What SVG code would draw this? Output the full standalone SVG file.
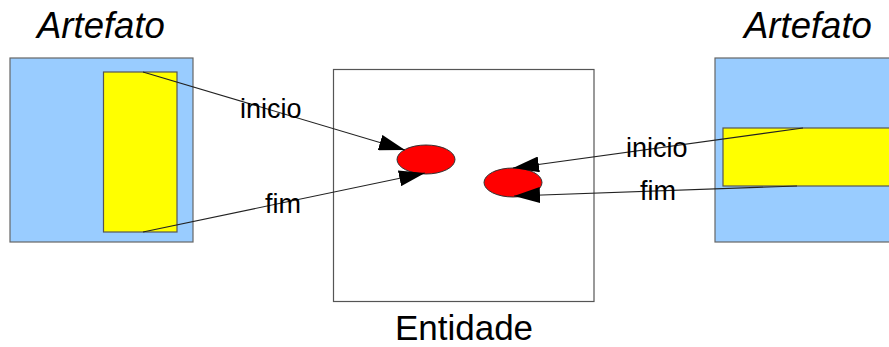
<svg xmlns="http://www.w3.org/2000/svg" width="889" height="347" viewBox="0 0 889 347">
<style>
.blue{fill:#99ccff;stroke:#666;stroke-width:1.2}
.yellow{fill:#ffff00;stroke:#555;stroke-width:1.2}
.ent{fill:#fff;stroke:#555;stroke-width:1.2}
.ell{fill:#ff0000;stroke:#333;stroke-width:1}
.t{font-family:"Liberation Sans",Arial,sans-serif;fill:#000}
.title{font-size:36.5px;font-style:italic}
.lbl{font-size:27px}
.conn{stroke:#222;stroke-width:1.1;fill:none;marker-end:url(#arr)}
</style>
<defs>
<marker id="arr" markerUnits="userSpaceOnUse" markerWidth="26" markerHeight="16" refX="26" refY="8" orient="auto" viewBox="0 0 26 16">
<path d="M0,0 L26,8 L0,16 Z" fill="#000"/>
</marker>
</defs>
<g id="artefato-left">
<text class="t title" x="37" y="38">Artefato</text>
<rect class="blue" x="10" y="58" width="183" height="184"/>
<rect class="yellow" x="103.5" y="72" width="73.5" height="160"/>
</g>
<g id="artefato-right">
<text class="t title" x="744" y="38">Artefato</text>
<rect class="blue" x="715" y="58" width="180" height="184"/>
<rect class="yellow" x="723" y="128" width="172" height="58"/>
</g>
<g id="entidade">
<rect class="ent" x="333.5" y="69.5" width="260.5" height="232"/>
<text class="t" x="464" y="340" font-size="35" text-anchor="middle">Entidade</text>
</g>
<g id="ellipse-left">
<ellipse class="ell" cx="426" cy="159.5" rx="29" ry="14.5"/>
</g>
<g id="ellipse-right">
<ellipse class="ell" cx="513" cy="182.5" rx="29" ry="14.5"/>
</g>
<g id="connectors">
<line class="conn" x1="143" y1="72" x2="405" y2="150"/>
<line class="conn" x1="143" y1="232" x2="425" y2="173"/>
<line class="conn" x1="803" y1="128" x2="513" y2="168"/>
<line class="conn" x1="797" y1="186" x2="514" y2="196"/>
<text class="t lbl" x="240" y="118">inicio</text>
<text class="t lbl" x="265" y="213">fim</text>
<text class="t lbl" x="626" y="157">inicio</text>
<text class="t lbl" x="640" y="200">fim</text>
</g>
</svg>
